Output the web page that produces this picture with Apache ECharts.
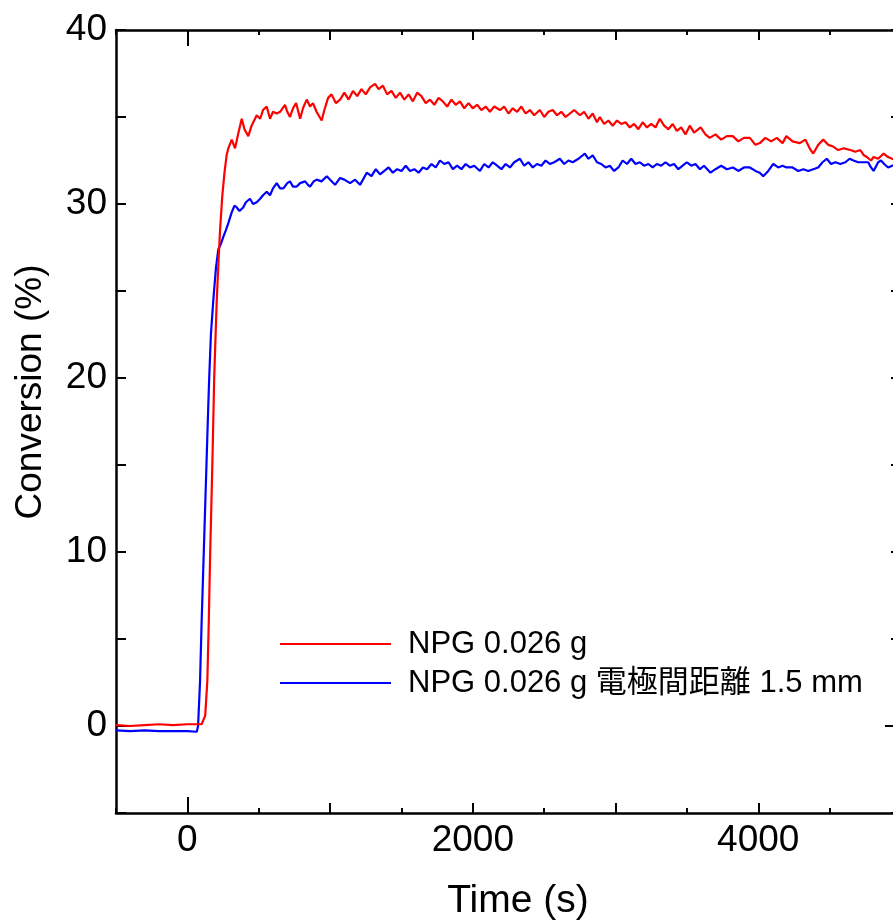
<!DOCTYPE html>
<html>
<head>
<meta charset="utf-8">
<script src="https://cdn.jsdelivr.net/npm/echarts@6/dist/echarts.min.js"></script>
<style>
html,body{margin:0;padding:0;background:#fff;overflow:hidden;}
#chart{width:910px;height:924px;}
</style>
</head>
<body>
<div id="chart"></div>
<script>
// ---- data ----
const seriesNames = ['NPG 0.026 g', 'NPG 0.026 g 電極間距離 1.5 mm'];
const xLabelValues = [0, 2000, 4000];
const yLabelValues = [0, 10, 20, 30, 40];

const redTime = [-500,-400,-300,-200,-100,0,50,100,112,125,140,150,160,175,188,206,220,229,245,260,275,287,311,334,355,381,400,427,450,486,510,530,556,579,600,626,650,684,700,719,740,762,790,810,836,860,880,905,941,960,986,1010,1040,1070,1100,1130,1160,1190,1220,1250,1280,1315,1340,1370,1400,1430,1460,1490,1520,1550,1580,1610,1640,1670,1700,1730,1760,1790,1820,1850,1880,1910,1940,1970,2000,2030,2060,2090,2120,2150,2190,2220,2250,2280,2310,2340,2370,2400,2430,2470,2500,2530,2560,2590,2620,2650,2680,2710,2750,2780,2810,2840,2870,2890,2920,2950,2980,3010,3040,3070,3100,3130,3160,3190,3220,3250,3280,3310,3340,3370,3400,3430,3460,3490,3520,3550,3596,3630,3660,3700,3740,3780,3822,3860,3900,3941,3980,4011,4050,4090,4130,4170,4197,4240,4291,4330,4360,4385,4420,4455,4490,4525,4560,4600,4645,4680,4715,4740,4761,4790,4808,4840,4878,4910,4938,4970,5000];
const redValue = [0.05,0.0,0.05,0.1,0.05,0.1,0.1,0.1,0.15,0.6,2.6,6,10,15,20,24.5,27,28.5,30.5,31.8,32.8,33.2,33.7,33.2,34.0,34.9,34.3,33.9,34.5,35.1,34.9,35.4,35.6,34.9,35.3,35.2,35.3,35.7,35.3,35.0,35.5,35.8,34.9,35.5,36.0,35.6,35.8,35.3,34.8,35.4,36.1,36.3,35.8,36.0,36.4,36.0,36.5,36.2,36.6,36.3,36.7,36.9,36.6,36.8,36.3,36.5,36.1,36.4,36.0,36.3,35.9,36.4,36.2,35.8,36.0,35.7,36.1,35.9,35.6,36.0,35.7,35.9,35.5,35.8,35.5,35.7,35.4,35.6,35.3,35.6,35.4,35.6,35.2,35.5,35.3,35.6,35.2,35.4,35.1,35.4,35.0,35.3,35.4,35.1,35.3,35.0,35.2,35.4,35.1,35.3,34.9,35.2,34.7,35.0,34.6,34.8,34.5,34.8,34.6,34.7,34.4,34.6,34.3,34.7,34.4,34.6,34.4,34.9,34.5,34.3,34.6,34.2,34.4,34.0,34.5,34.1,34.4,34.0,33.8,34.0,33.7,33.9,33.9,33.6,33.8,33.8,33.4,33.5,33.8,33.6,33.8,33.5,33.9,33.6,33.5,33.7,33.2,32.9,33.4,33.7,33.4,33.3,33.1,33.2,33.1,33.0,33.1,32.8,32.7,32.5,32.7,32.6,32.9,32.7,32.6,32.5,32.6];

const blueTime = [-500,-400,-300,-200,-100,0,66,75,89,100,115,130,145,153,165,182,200,217,235,251,270,287,310,330,346,365,391,410,439,460,486,510,530,556,579,600,626,650,673,700,719,740,766,790,825,845,860,885,906,940,977,1000,1035,1070,1100,1140,1175,1210,1257,1290,1320,1350,1380,1410,1440,1470,1500,1530,1560,1590,1620,1650,1680,1710,1740,1770,1800,1830,1860,1890,1920,1950,1980,2010,2050,2080,2110,2140,2170,2200,2230,2260,2290,2330,2360,2390,2420,2450,2480,2510,2540,2570,2610,2640,2670,2700,2740,2785,2810,2840,2870,2900,2930,2960,2990,3020,3050,3080,3110,3140,3170,3200,3230,3260,3290,3320,3350,3380,3410,3440,3470,3500,3530,3560,3591,3620,3665,3700,3740,3780,3823,3860,3900,3941,3980,4010,4035,4070,4105,4140,4170,4197,4240,4280,4316,4350,4385,4420,4450,4480,4510,4540,4575,4610,4640,4667,4700,4737,4770,4790,4808,4840,4860,4882,4910,4938,4970,5000];
const blueValue = [-0.25,-0.3,-0.25,-0.3,-0.3,-0.3,-0.33,0,2.6,6,10,14,18,20,22.5,24.5,26.3,27.4,27.7,28.1,28.5,28.9,29.5,29.9,29.8,29.6,29.8,30.1,30.3,30.0,30.1,30.3,30.5,30.7,30.5,30.9,31.2,30.9,30.9,31.2,31.3,31.0,31.0,31.2,31.3,31.1,31.0,31.3,31.4,31.3,31.6,31.4,31.1,31.5,31.4,31.2,31.4,31.1,31.8,31.6,32.0,31.7,31.9,32.1,31.8,32.0,31.9,32.2,31.9,32.0,31.8,32.1,32.0,32.3,32.1,32.5,32.3,32.4,32.0,32.2,32.0,32.3,32.1,32.2,31.9,32.3,32.1,32.4,32.2,32.0,32.3,32.1,32.4,32.6,32.2,32.4,32.1,32.3,32.2,32.5,32.3,32.4,32.6,32.3,32.5,32.4,32.6,32.9,32.6,32.8,32.4,32.3,32.1,32.2,31.9,32.1,32.5,32.3,32.6,32.3,32.4,32.2,32.3,32.1,32.3,32.2,32.4,32.2,32.3,32.0,32.2,32.4,32.2,32.3,32.0,32.2,31.8,32.0,32.2,32.0,32.1,31.9,32.1,32.1,31.9,31.8,31.6,31.9,32.3,32.1,32.2,32.1,32.1,31.9,32.0,31.9,32.0,32.1,32.4,32.6,32.3,32.4,32.3,32.4,32.6,32.5,32.4,32.4,32.4,32.1,31.9,32.4,32.5,32.3,32.1,32.2,32.3,32.2];

// ---- chart ----
const FONT = '"Liberation Sans", Arial, "Noto Sans CJK JP", sans-serif';
const chart = echarts.init(document.getElementById('chart'), null, {renderer: 'canvas'});

const X_MIN = -500, X_MAX = 5000, Y_MIN = -5, Y_MAX = 40;
const lineCol = '#000';
function pairs(t, v) { return t.map((x, i) => [x, v[i]]); }
const plain = v => String(v);

function xAx(pos, tickVals, len, showLine, showLabel) {
  return {
    type: 'value', position: pos, min: X_MIN, max: X_MAX, interval: 500,
    axisLine: {show: showLine, onZero: false, lineStyle: {color: lineCol, width: 2.5}},
    axisTick: {show: true, inside: true, length: len, customValues: tickVals, lineStyle: {color: lineCol, width: 2}},
    axisLabel: showLabel ? {show: true, customValues: xLabelValues, formatter: plain, fontSize: 37, color: '#000', fontFamily: FONT, margin: 9} : {show: false},
    splitLine: {show: false}
  };
}
function yAx(pos, tickVals, len, showLine, showLabel) {
  return {
    type: 'value', position: pos, min: Y_MIN, max: Y_MAX, interval: 5,
    axisLine: {show: showLine, onZero: false, lineStyle: {color: lineCol, width: 2.5}},
    axisTick: {show: true, inside: true, length: len, customValues: tickVals, lineStyle: {color: lineCol, width: 2}},
    axisLabel: showLabel ? {show: true, customValues: yLabelValues, formatter: plain, fontSize: 37, color: '#000', fontFamily: FONT, margin: 9} : {show: false},
    splitLine: {show: false}
  };
}
const x500 = [-500,500,1500,2500,3500,4500];
const x1000 = [1000,2000,3000,4000,5000];
const y5 = [-5,5,10,15,20,25,30,35,40];

chart.setOption({
  animation: false,
  backgroundColor: '#fff',
  grid: {left: 116, right: 9, top: 30, bottom: 111, containLabel: false},
  xAxis: [
    xAx('bottom', x500, 5, true, true),
    xAx('bottom', x1000, 10, false, false),
    xAx('bottom', [0], 16, false, false),
    xAx('top', x500, 5, true, false),
    xAx('top', x1000, 10, false, false),
    xAx('top', [0], 16, false, false)
  ],
  yAxis: [
    yAx('left', y5, 10, true, true),
    yAx('left', [0], 16, false, false),
    yAx('right', y5, 10, true, false),
    yAx('right', [0], 16, false, false)
  ],
  legend: {
    orient: 'vertical', left: 280, top: 627, padding: 0,
    icon: 'rect', itemWidth: 111, itemHeight: 2, itemGap: 5,
    textStyle: {fontSize: 31, color: '#000', fontFamily: FONT, lineHeight: 34, padding: [0, 0, 0, 12]},
    data: seriesNames
  },
  graphic: [
    {type: 'text', x: 518, y: 901, style: {text: 'Time (s)', font: '39px ' + FONT, fill: '#000', align: 'center', verticalAlign: 'middle'}},
    {type: 'text', x: 31, y: 392, rotation: Math.PI / 2, style: {text: 'Conversion (%)', font: '37px ' + FONT, fill: '#000', align: 'center', verticalAlign: 'middle'}}
  ],
  series: [
    {name: seriesNames[0], type: 'line', xAxisIndex: 0, yAxisIndex: 0, showSymbol: false, symbol: 'none',
     lineStyle: {color: '#ff0000', width: 2.2}, itemStyle: {color: '#ff0000'}, data: pairs(redTime, redValue), z: 3},
    {name: seriesNames[1], type: 'line', xAxisIndex: 0, yAxisIndex: 0, showSymbol: false, symbol: 'none',
     lineStyle: {color: '#0000ff', width: 2.2}, itemStyle: {color: '#0000ff'}, data: pairs(blueTime, blueValue), z: 2}
  ]
});
</script>
</body>
</html>
